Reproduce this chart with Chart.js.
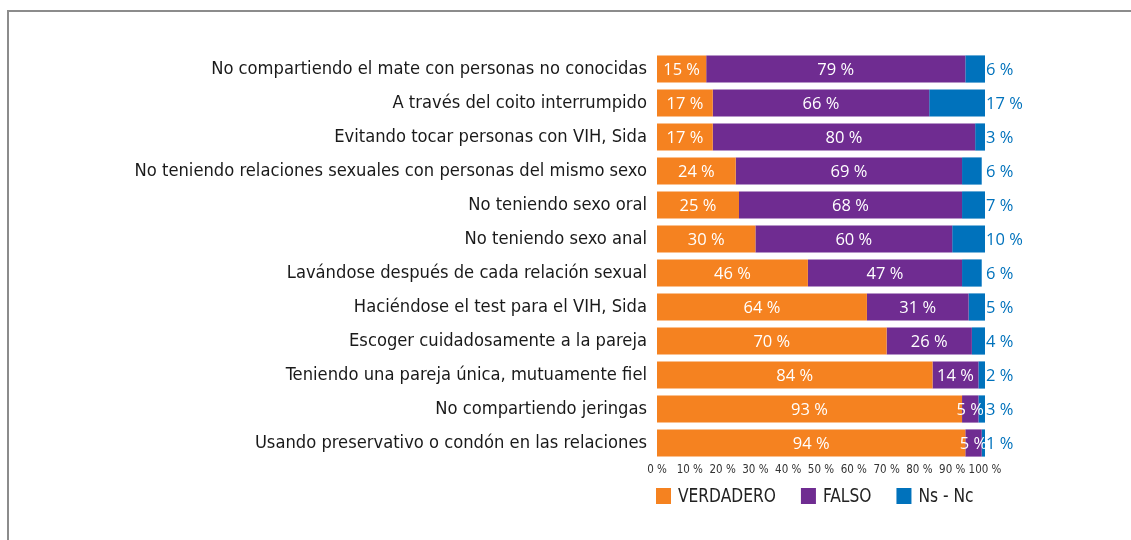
<!DOCTYPE html>
<html>
<head>
<meta charset="utf-8">
<script src="https://cdn.jsdelivr.net/npm/chart.js@4.4.0/dist/chart.umd.min.js"></script>
<style>
  html, body { margin:0; padding:0; background:#fff; overflow:hidden; }
  #wrap { position:relative; width:1131px; height:540px; }
  #frame { position:absolute; left:7px; top:10px; width:1300px; height:700px; border:2px solid #8c8c8c; box-sizing:border-box; }
  canvas { position:absolute; left:0; top:0; }
</style>
</head>
<body>
<div id="wrap">
  <div id="frame"></div>
  <canvas id="chart" width="1131" height="540"></canvas>
</div>
<script>
/* ---- Datos ---- */
const categorias = [
  'No compartiendo el mate con personas no conocidas',
  'A través del coito interrumpido',
  'Evitando tocar personas con VIH, Sida',
  'No teniendo relaciones sexuales con personas del mismo sexo',
  'No teniendo sexo oral',
  'No teniendo sexo anal',
  'Lavándose después de cada relación sexual',
  'Haciéndose el test para el VIH, Sida',
  'Escoger cuidadosamente a la pareja',
  'Teniendo una pareja única, mutuamente fiel',
  'No compartiendo jeringas',
  'Usando preservativo o condón en las relaciones'
];
const verdadero = [15, 17, 17, 24, 25, 30, 46, 64, 70, 84, 93, 94];
const falso     = [79, 66, 80, 69, 68, 60, 47, 31, 26, 14,  5,  5];
const nsnc      = [ 6, 17,  3,  6,  7, 10,  6,  5,  4,  2,  3,  1];
const xTicks    = [0, 10, 20, 30, 40, 50, 60, 70, 80, 90, 100];

const FONT = "'Open Sans', 'Noto Sans', sans-serif";
const NARROW = "'DejaVu Sans Condensed', 'DejaVu Sans', sans-serif";
const C_V = '#f58220', C_F = '#6f2c91', C_N = '#0072bc';

/* ---- Etiquetas de valores ---- */
const valueLabels = {
  id: 'valueLabels',
  afterDatasetsDraw(chart) {
    const ctx = chart.ctx;
    ctx.save();
    ctx.font = `16.5px ${FONT}`;
    ctx.textBaseline = 'middle';
    chart.data.datasets.forEach((ds, di) => {
      const meta = chart.getDatasetMeta(di);
      meta.data.forEach((bar, i) => {
        const txt = ds.data[i] + ' %';
        if (di < 2) {
          ctx.fillStyle = '#fff';
          ctx.textAlign = 'center';
          ctx.fillText(txt, (bar.x + bar.base) / 2, bar.y + 1);
        } else {
          ctx.fillStyle = C_N;
          ctx.textAlign = 'left';
          ctx.fillText(txt, chart.chartArea.right + 1, bar.y + 1);
        }
      });
    });
    ctx.restore();
  }
};

/* ---- Leyenda propia (alineada con el área del gráfico) ---- */
const customLegend = {
  id: 'customLegend',
  afterDraw(chart) {
    const ctx = chart.ctx;
    const y = chart.chartArea.bottom + 36;
    const sx = 0.86;               // letra estrecha, alta
    let x = chart.chartArea.left - 1;
    ctx.save();
    ctx.font = `20px ${NARROW}`;
    ctx.textBaseline = 'middle';
    ctx.textAlign = 'left';
    chart.data.datasets.forEach(ds => {
      ctx.fillStyle = ds.backgroundColor;
      ctx.fillRect(x, y - 8, 15, 16);
      ctx.fillStyle = '#222';
      const tx = x + 22;
      ctx.save();
      ctx.translate(tx, y + 1);
      ctx.scale(sx, 1);
      ctx.fillText(ds.label, 0, 0);
      ctx.restore();
      x = tx + ctx.measureText(ds.label).width * sx + 25;
    });
    ctx.restore();
  }
};

new Chart(document.getElementById('chart'), {
  type: 'bar',
  data: {
    labels: categorias,
    datasets: [
      { label: 'VERDADERO', data: verdadero, backgroundColor: C_V },
      { label: 'FALSO',     data: falso,     backgroundColor: C_F },
      { label: 'Ns - Nc',   data: nsnc,      backgroundColor: C_N }
    ]
  },
  options: {
    indexAxis: 'y',
    responsive: false,
    animation: false,
    categoryPercentage: 1,
    barPercentage: 0.8,
    layout: { padding: { top: 52, right: 146, bottom: 60, left: 0 } },
    plugins: { legend: { display: false }, tooltip: { enabled: false } },
    scales: {
      x: {
        stacked: true, min: 0, max: 100,
        afterBuildTicks: (s) => { s.ticks = xTicks.map(v => ({ value: v })); },
        afterFit: (s) => { s.height = 20; },
        grid: { display: false, drawTicks: false }, border: { display: false },
        ticks: { color: '#333', padding: 3, maxRotation: 0, autoSkip: false,
                 font: { family: NARROW, size: 11.5 },
                 callback: (v) => v + ' %' }
      },
      y: {
        stacked: true,
        afterFit: (s) => { s.width = 657; },
        grid: { display: false, drawTicks: false }, border: { display: false },
        ticks: { color: '#1a1a1a', padding: 10, font: { family: NARROW, size: 18.2 } }
      }
    }
  },
  plugins: [valueLabels, customLegend]
});
</script>
</body>
</html>
